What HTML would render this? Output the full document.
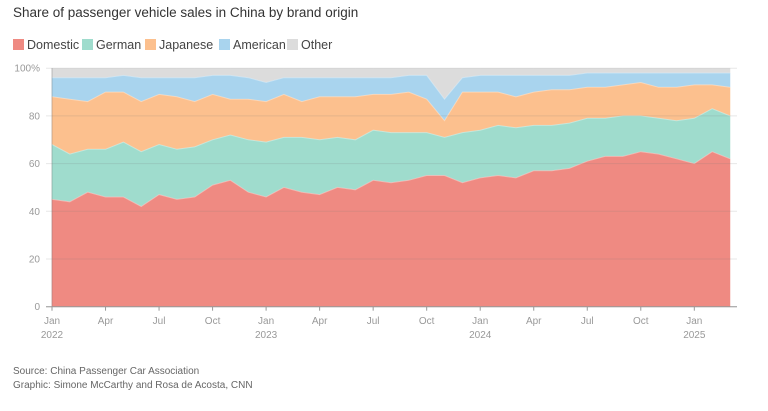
<!DOCTYPE html>
<html><head><meta charset="utf-8"><style>
body{margin:0;background:#fff;width:768px;height:406px;overflow:hidden;font-family:"Liberation Sans",sans-serif}
</style></head><body>
<svg width="768" height="406" xmlns="http://www.w3.org/2000/svg" font-family="Liberation Sans, sans-serif">
<text x="13" y="17" font-size="13.5" fill="#333">Share of passenger vehicle sales in China by brand origin</text>
<g font-size="12.5" fill="#444">
<rect x="13" y="39" width="11" height="11" fill="#ef8a82"/><text x="27" y="49">Domestic</text>
<rect x="82" y="39" width="11" height="11" fill="#9fdccd"/><text x="96" y="49">German</text>
<rect x="145" y="39" width="11" height="11" fill="#fcc08e"/><text x="159" y="49">Japanese</text>
<rect x="219" y="39" width="11" height="11" fill="#a9d4ee"/><text x="233" y="49">American</text>
<rect x="287" y="39" width="11" height="11" fill="#dcdcdc"/><text x="301" y="49">Other</text>
</g>
<g id="areas"></g>
<g id="grid"></g>
<g font-size="10" fill="#999" id="ax"></g>
<g font-size="10" fill="#666">
<text x="13" y="374">Source: China Passenger Car Association</text>
<text x="13" y="388">Graphic: Simone McCarthy and Rosa de Acosta, CNN</text>
</g>
</svg>
<script>
var D=[45,44,48,46,46,42,47,45,46,51,53,48,46,50,48,47,50,49,53,52,53,55,55,52,54,55,54,57,57,58,61,63,63,65,64,62,60,65,62];
var G=[68,64,66,66,69,65,68,66,67,70,72,70,69,71,71,70,71,70,74,73,73,73,71,73,74,76,75,76,76,77,79,79,80,80,79,78,79,83,80];
var J=[88,87,86,90,90,86,89,88,86,89,87,87,86,89,86,88,88,88,89,89,90,87,78,90,90,90,88,90,91,91,92,92,93,94,92,92,93,93,92];
var A=[96,96,96,96,97,96,96,96,96,97,97,96,94,96,96,96,96,96,96,96,97,97,87,96,97,97,97,97,97,97,98,98,98,98,98,98,98,98,98];
var O=D.map(function(){return 100});
var x0=52,x1=730,n=39,yz=306.7,sc=2.385;
function X(i){return x0+i*(x1-x0)/(n-1)}
function Y(v){return yz-v*sc}
var layers=[[O,A,"#dcdcdc"],[A,J,"#a9d4ee"],[J,G,"#fcc08e"],[G,D,"#9fdccd"],[D,null,"#ef8a82"]];
var s="";
layers.forEach(function(l){
 var p="M";for(var i=0;i<n;i++)p+=X(i).toFixed(1)+","+Y(l[0][i]).toFixed(1)+" L";
 if(l[1]){for(var i=n-1;i>=0;i--)p+=X(i).toFixed(1)+","+Y(l[1][i]).toFixed(1)+" L";}
 else{p+=X(n-1)+","+yz+" L"+x0+","+yz+" L";}
 p=p.slice(0,-2)+"Z";
 s+='<path d="'+p+'" fill="'+l[2]+'" stroke="'+l[2]+'" stroke-width="0.5"/>';
 s+='<polyline points="'+l[0].map(function(v,i){return X(i).toFixed(1)+","+Y(v).toFixed(1)}).join(" ")+'" fill="none" stroke="rgba(255,255,255,0.35)" stroke-width="1"/>';
});
document.getElementById("areas").innerHTML=s;
var g="",a="";
[0,20,40,60,80,100].forEach(function(v){var y=Y(v);
 g+='<line x1="46" x2="737" y1="'+y+'" y2="'+y+'" stroke="rgba(120,120,120,0.18)"/>';
 a+='<text x="40" y="'+(y+3.5)+'" text-anchor="end">'+(v==100?"100%":v)+'</text>';});
g+='<line x1="'+x0+'" x2="'+x0+'" y1="68" y2="'+yz+'" stroke="rgba(120,120,120,0.4)"/>';
g+='<line x1="46" x2="737" y1="'+yz+'" y2="'+yz+'" stroke="#999"/>';
var m=["Jan","Apr","Jul","Oct"];
for(var k=0;k<13;k++){var i=k*3,x=X(i);
 g+='<line x1="'+x+'" x2="'+x+'" y1="'+yz+'" y2="'+(yz+4)+'" stroke="#999"/>';
 a+='<text x="'+x+'" y="324" text-anchor="middle">'+m[k%4]+'</text>';
 if(k%4==0)a+='<text x="'+x+'" y="338" text-anchor="middle">'+(2022+k/4)+'</text>';}
document.getElementById("grid").innerHTML=g;
document.getElementById("ax").innerHTML=a;
</script>
</body></html>
